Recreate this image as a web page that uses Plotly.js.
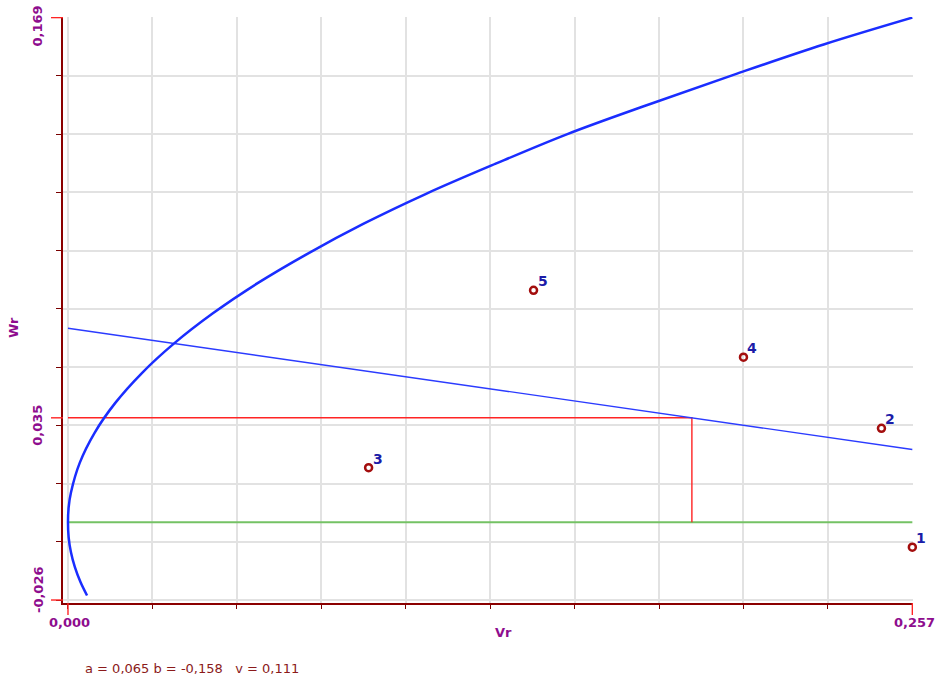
<!DOCTYPE html>
<html>
<head>
<meta charset="utf-8">
<script src="https://cdn.plot.ly/plotly-3.0.1.min.js"></script>
<style>html,body{margin:0;padding:0;background:#fff;}#chart{width:943px;height:683px;}</style>
</head>
<body>
<div id="chart"></div>
<script>
// Measured points
const pointIds = ["1", "2", "3", "4", "5"];
const pointVr = [0.257, 0.2476, 0.0915, 0.2056, 0.1417];
const pointWr = [-0.0083, 0.0315, 0.0183, 0.0553, 0.0777];

// Blue curve
const curveWr = [-0.0245, -0.02, -0.015, -0.01, -0.005, 0, 0.005, 0.01, 0.02, 0.03, 0.04, 0.05, 0.06, 0.07, 0.08, 0.09, 0.10, 0.11, 0.12, 0.13, 0.14, 0.15, 0.16, 0.169];
const curveVr = [0.0058, 0.0038, 0.0021, 0.0009, 0.0002, 0, 0.0002, 0.0009, 0.0036, 0.0081, 0.0144, 0.0225, 0.0324, 0.0441, 0.0576, 0.073, 0.090, 0.109, 0.130, 0.152, 0.177, 0.203, 0.230, 0.257];

// Straight blue line
const lineVr = [0, 0.257];
const lineWr = [0.065, 0.0244];

// Green zero line
const greenVr = [0, 0.257];
const greenWr = [0, 0];

// Red guide lines
const redVr = [0, 0.1899, 0.1899];
const redWr = [0.035, 0.035, 0];

// Grid positions and tick labels
const xGrid = [0, 0.0257, 0.0514, 0.0771, 0.1028, 0.1285, 0.1542, 0.1799, 0.2056, 0.2313, 0.257];
const yGrid = [-0.026, -0.0065, 0.013, 0.0325, 0.052, 0.0715, 0.091, 0.1105, 0.13, 0.1495, 0.169];
const xLabelVals = [0, 0.257];
const xLabelText = ["0,000", "0,257"];
const yLabelVals = [0.169, 0.035, -0.026];
const yLabelText = ["0,169", "0,035", "-0,026"];
const yLabelShift = [-9, -8, 10];
const paramText = "a = 0,065 b = -0,158   v = 0,111";

const FONT = "DejaVu Sans, Verdana, sans-serif";
const PURPLE = "#8e0d8e";
const PW = 850, PH = 586;

const traces = [
  {x: greenVr, y: greenWr, mode: "lines", line: {color: "#74c264", width: 2}, hoverinfo: "skip"},
  {x: redVr, y: redWr, mode: "lines", line: {color: "#ff2424", width: 1.4}, hoverinfo: "skip"},
  {x: lineVr, y: lineWr, mode: "lines", line: {color: "#2b3bff", width: 1.4}, hoverinfo: "skip"},
  {x: curveVr, y: curveWr, mode: "lines", line: {color: "#1a2dff", width: 2.5, shape: "spline"}, hoverinfo: "skip"},
  {x: pointVr, y: pointWr, mode: "markers", cliponaxis: false, marker: {symbol: "circle-open", size: 7, color: "#a30d0d", line: {width: 2.5, color: "#a30d0d"}}, hoverinfo: "skip"}
];

const annotations = [];
pointIds.forEach((t, i) => annotations.push({
  x: pointVr[i], y: pointWr[i], xref: "x", yref: "y", text: "<b>" + t + "</b>", showarrow: false,
  xanchor: "center", yanchor: "middle",
  xshift: 9, yshift: 9, font: {family: FONT, size: 14, color: "#1c1ca8"}
}));
xLabelVals.forEach((v, i) => annotations.push({
  x: v, y: -19 / PH, xref: "x", yref: "paper", text: "<b>" + xLabelText[i] + "</b>", showarrow: false,
  xanchor: "center", yanchor: "middle",
  xshift: 2, font: {family: FONT, size: 13, color: PURPLE}
}));
yLabelVals.forEach((v, i) => annotations.push({
  x: -25 / PW, y: v, xref: "paper", yref: "y", text: "<b>" + yLabelText[i] + "</b>", showarrow: false,
  xanchor: "center", yanchor: "middle",
  textangle: -90, yshift: yLabelShift[i], font: {family: FONT, size: 13, color: PURPLE}
}));
annotations.push({x: (503 - 63) / PW, y: -29 / PH, xref: "paper", yref: "paper", xanchor: "center", yanchor: "middle", text: "<b>Vr</b>", showarrow: false, font: {family: FONT, size: 13, color: PURPLE}});
annotations.push({x: (13 - 63) / PW, y: (603 - 328) / PH, xref: "paper", yref: "paper", xanchor: "center", yanchor: "middle", text: "<b>Wr</b>", textangle: -90, showarrow: false, font: {family: FONT, size: 13, color: PURPLE}});
annotations.push({x: (83 - 63) / PW, y: (603 - 668) / PH, xref: "paper", yref: "paper", xanchor: "left", yanchor: "middle", text: paramText, showarrow: false, font: {family: FONT, size: 13, color: "#8b1a1a"}});

const shapes = [];
yLabelVals.forEach(v => shapes.push({type: "line", xref: "paper", yref: "y", x0: -12 / PW, x1: 0, y0: v, y1: v, line: {color: "#ff2424", width: 1.4}}));
xLabelVals.forEach(v => shapes.push({type: "line", xref: "x", yref: "paper", x0: v, x1: v, y0: 0, y1: -12 / PH, line: {color: "#ff2424", width: 1.4}}));

const layout = {
  width: 943, height: 683,
  margin: {l: 63, r: 30, t: 17, b: 80},
  paper_bgcolor: "#ffffff", plot_bgcolor: "#ffffff",
  showlegend: false,
  xaxis: {
    range: [-0.00152, 0.2572], tickmode: "array", tickvals: xGrid, showticklabels: false,
    ticks: "outside", ticklen: 4, tickcolor: "#7a0000", tickwidth: 1,
    showgrid: true, gridcolor: "#e2e2e2", gridwidth: 2, zeroline: false,
    showline: true, linecolor: "#8b0000", linewidth: 2
  },
  yaxis: {
    range: [-0.0270, 0.1692], tickmode: "array", tickvals: yGrid, showticklabels: false,
    ticks: "outside", ticklen: 5, tickcolor: "#7a0000", tickwidth: 1,
    showgrid: true, gridcolor: "#e2e2e2", gridwidth: 2, zeroline: false,
    showline: true, linecolor: "#8b0000", linewidth: 2
  },
  annotations: annotations,
  shapes: shapes
};

Plotly.newPlot("chart", traces, layout, {displayModeBar: false, staticPlot: true});
</script>
</body>
</html>
